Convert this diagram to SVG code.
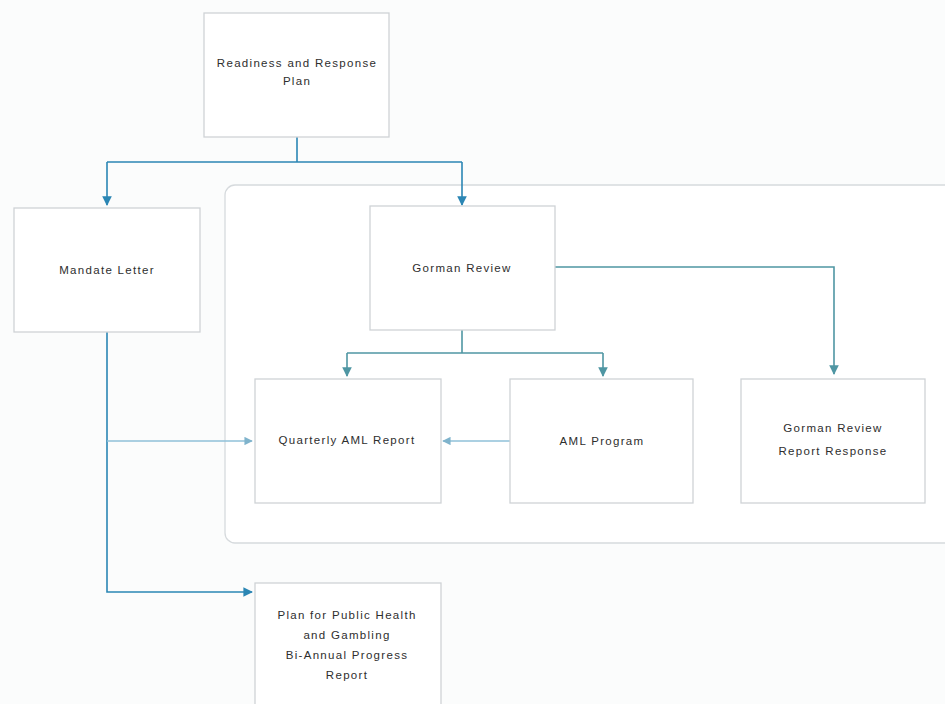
<svg xmlns="http://www.w3.org/2000/svg" width="945" height="704" viewBox="0 0 945 704">
<defs>
<style>
.box{fill:#ffffff;stroke:#cfd3d6;stroke-width:1.3}
.lbl{font-family:"Liberation Sans",Arial,sans-serif;font-size:11.5px;fill:#2e2e2e;text-anchor:middle;letter-spacing:1.3px}
.c1{fill:none;stroke:#2b86b4;stroke-width:1.6}
.c2{fill:none;stroke:#4f96a3;stroke-width:1.6}
.c3{fill:none;stroke:#8fc0d8;stroke-width:1.4}
</style>
<marker id="a1" viewBox="0 0 10 10" refX="9" refY="5" markerWidth="6" markerHeight="6" orient="auto"><path d="M0,0 L10,5 L0,10 z" fill="#2b86b4"/></marker>
<marker id="a2" viewBox="0 0 10 10" refX="9" refY="5" markerWidth="6" markerHeight="6" orient="auto"><path d="M0,0 L10,5 L0,10 z" fill="#4f96a3"/></marker>
<marker id="a3" viewBox="0 0 10 10" refX="9" refY="5" markerWidth="6" markerHeight="6" orient="auto"><path d="M0,0 L10,5 L0,10 z" fill="#7fb3cc"/></marker>
</defs>
<rect width="945" height="704" fill="#fbfcfc"/>
<g id="container"><rect x="225" y="185" width="740" height="358" rx="10" fill="#ffffff" stroke="#d6dadd" stroke-width="1.3"/></g>
<g id="connectors">
<path class="c1" d="M297,137 V162"/>
<path class="c1" d="M107,162 H462"/>
<path class="c1" d="M107,162 V205" marker-end="url(#a1)"/>
<path class="c1" d="M462,162 V205" marker-end="url(#a1)"/>
<path class="c2" d="M555,267 H834 V374" marker-end="url(#a2)"/>
<path class="c2" d="M462,330 V353"/>
<path class="c2" d="M347,353 H603"/>
<path class="c2" d="M347,353 V376" marker-end="url(#a2)"/>
<path class="c2" d="M603,353 V376" marker-end="url(#a2)"/>
<path class="c1" d="M107,332 V592 H252" marker-end="url(#a1)"/>
<path class="c3" d="M107,441 H252" marker-end="url(#a3)"/>
<path class="c3" d="M510,441 H443" marker-end="url(#a3)"/>
</g>
<g id="readiness"><rect class="box" x="204" y="13" width="185" height="124"/><text class="lbl" x="297" y="67">Readiness and Response</text><text class="lbl" x="297" y="85">Plan</text></g>
<g id="mandate"><rect class="box" x="14" y="208" width="186" height="124"/><text class="lbl" x="107" y="274">Mandate Letter</text></g>
<g id="gorman"><rect class="box" x="370" y="206" width="185" height="124"/><text class="lbl" x="462" y="272">Gorman Review</text></g>
<g id="quarterly"><rect class="box" x="255" y="379" width="186" height="124"/><text class="lbl" x="347" y="444">Quarterly AML Report</text></g>
<g id="amlprogram"><rect class="box" x="510" y="379" width="183" height="124"/><text class="lbl" x="602" y="445">AML Program</text></g>
<g id="gormanresponse"><rect class="box" x="741" y="379" width="184" height="124"/><text class="lbl" x="833" y="432">Gorman Review</text><text class="lbl" x="833" y="455">Report Response</text></g>
<g id="plan"><rect class="box" x="255" y="583" width="186" height="130"/><text class="lbl" x="347" y="619">Plan for Public Health</text><text class="lbl" x="347" y="639">and Gambling</text><text class="lbl" x="347" y="659">Bi-Annual Progress</text><text class="lbl" x="347" y="679">Report</text></g>
</svg>
